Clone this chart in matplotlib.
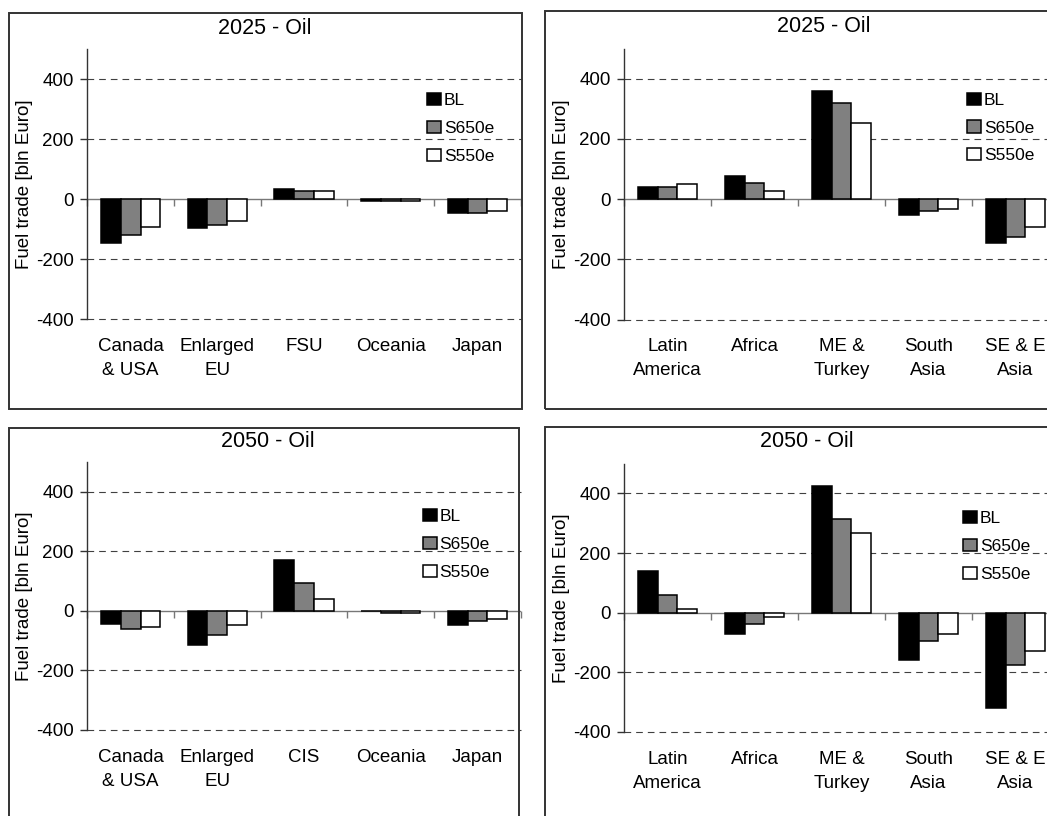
import matplotlib
matplotlib.use("Agg")
import matplotlib.pyplot as plt
from matplotlib.patches import Rectangle
import numpy as np

plt.rcParams['font.family'] = ['Liberation Sans', 'DejaVu Sans']
plt.rcParams['axes.unicode_minus'] = False

# ---------------- data ----------------
series = ["BL", "S650e", "S550e"]
colors = ["#000000", "#808080", "#ffffff"]

regions_a_2025 = ["Canada\n& USA", "Enlarged\nEU", "FSU", "Oceania", "Japan"]
regions_a_2050 = ["Canada\n& USA", "Enlarged\nEU", "CIS", "Oceania", "Japan"]
regions_b = ["Latin\nAmerica", "Africa", "ME &\nTurkey", "South\nAsia", "SE & E\nAsia"]

bl_a_2025 = [-148, -96, 34, -8, -48]
s650_a_2025 = [-120, -87, 27, -8, -46]
s550_a_2025 = [-93, -74, 28, -8, -40]

bl_b_2025 = [41, 75, 360, -54, -147]
s650_b_2025 = [40, 54, 318, -41, -127]
s550_b_2025 = [49, 28, 252, -34, -94]

bl_a_2050 = [-43, -115, 169, 0, -49]
s650_a_2050 = [-61, -81, 93, -8, -35]
s550_a_2050 = [-55, -47, 40, -8, -27]

bl_b_2050 = [141, -70, 423, -159, -318]
s650_b_2050 = [59, -37, 314, -96, -175]
s550_b_2050 = [13, -15, 268, -70, -130]

yticks = [-400, -200, 0, 200, 400]
ylabel = "Fuel trade [bln Euro]"

# ---------------- layout ----------------
W, H = 1047, 816
fig = plt.figure(figsize=(W / 100, H / 100), dpi=100)


def px_rect(x0, y0, x1, y1):
    return [x0 / W, 1 - y1 / H, (x1 - x0) / W, (y1 - y0) / H]


def box(x0, y0, x1, y1):
    fig.add_artist(Rectangle((x0 / W, 1 - y1 / H), (x1 - x0) / W, (y1 - y0) / H,
                             transform=fig.transFigure, fill=False,
                             edgecolor='#333333', linewidth=1.4))


def panel(rect_px, title, title_px, cats, vals, legend_px):
    ax = fig.add_axes(px_rect(*rect_px))
    x = np.arange(len(cats))
    w = 0.228
    handles = []
    for i, (name, v, c) in enumerate(zip(series, vals, colors)):
        b = ax.bar(x + (i - 1) * w, v, width=w, color=c, edgecolor='black',
                   linewidth=1.1, label=name, zorder=3)
        handles.append(b)
    ax.set_xlim(-0.5, len(cats) - 0.5)
    ax.set_ylim(-400, 500)
    ax.set_yticks(yticks)
    ax.set_yticklabels([str(v) for v in yticks])
    ax.set_xticks(x)
    ax.set_xticklabels(cats, fontsize=13.5, linespacing=1.55)
    ax.tick_params(axis='x', length=0, pad=13.5)
    ax.tick_params(axis='y', length=4.7, width=1.0, color='#333333',
                   labelsize=13.5, pad=5)
    for s in ['top', 'right', 'bottom']:
        ax.spines[s].set_visible(False)
    ax.spines['left'].set_color('#333333')
    ax.spines['left'].set_linewidth(1.0)
    ax.yaxis.grid(True, linestyle=(0, (6, 4.5)), color='#404040', linewidth=0.8)
    ax.set_axisbelow(True)
    for t, v in zip(ax.yaxis.get_major_ticks(), yticks):
        t.gridline.set_clip_on(False)
        if v == 0:
            t.gridline.set_visible(False)
    ax.patch.set_alpha(0)

    # category axis crossing at zero
    ax.axhline(0, color='#777777', linewidth=1.0, zorder=2)
    sec = ax.secondary_xaxis(400 / 900)
    sec.set_xticks(np.arange(len(cats) + 1) - 0.5)
    sec.tick_params(axis='x', length=4.7, width=1.0, color='#777777',
                    labelbottom=False, labeltop=False, direction='out')
    for s in sec.spines.values():
        s.set_visible(False)

    ax.set_ylabel(ylabel, fontsize=13.5)
    ax.yaxis.set_label_coords(-54.5 / (rect_px[2] - rect_px[0]), 0.5)

    fig.text(title_px[0] / W, 1 - title_px[1] / H, title, ha='center',
             va='center', fontsize=15.5)

    ax.legend(handles=handles, loc='center left',
              bbox_to_anchor=(legend_px[0] / W, 1 - legend_px[1] / H),
              bbox_transform=fig.transFigure, frameon=False, borderpad=0,
              borderaxespad=0, handlelength=0.8, handleheight=0.7,
              handletextpad=0.15, labelspacing=0.72, fontsize=12.5)
    return ax


# outer chart boxes
box(9.3, 13, 521.7, 409)
box(545, 10.7, 1070, 409)
box(9.3, 427.7, 519.3, 840)
box(545, 427, 1070, 840)

panel((87.3, 49, 520.8, 319), "2025 - Oil", (264.5, 28), regions_a_2025,
      [bl_a_2025, s650_a_2025, s550_a_2025], (427.3, 128.5))
panel((624, 48.5, 1059, 319.5), "2025 - Oil", (824, 26), regions_b,
      [bl_b_2025, s650_b_2025, s550_b_2025], (967.3, 128))
panel((87.3, 461.7, 520.8, 730), "2050 - Oil", (268, 441.5), regions_a_2050,
      [bl_a_2050, s650_a_2050, s550_a_2050], (422.7, 544.5))
panel((624, 463.5, 1059, 732), "2050 - Oil", (807, 441.5), regions_b,
      [bl_b_2050, s650_b_2050, s550_b_2050], (963.3, 546.5))

fig.savefig("out.png", dpi=100)
